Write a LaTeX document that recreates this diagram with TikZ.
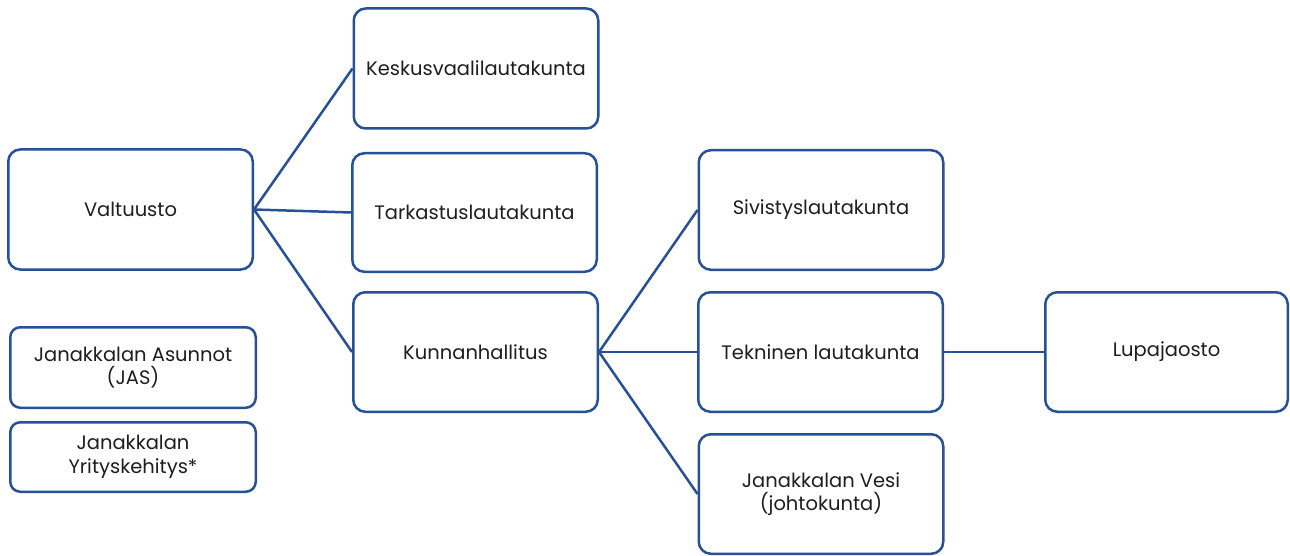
\documentclass[tikz,border=0pt]{standalone}
\usepackage{fontspec}
\setmainfont{Poppins}
\definecolor{boxblue}{RGB}{38,80,152}
\definecolor{txt}{RGB}{30,30,30}
\tikzset{
  orgbox/.style={draw=boxblue, line width=2.5pt, rounded corners=12pt, fill=white,
    minimum width=244.5pt, minimum height=120pt, inner sep=0pt, align=center,
    text=txt, font=\fontsize{19.5}{23.5}\selectfont},
  link/.style={draw=boxblue, line width=2.5pt}
}
\begin{document}
\begin{tikzpicture}[x=1pt,y=-1pt]
\useasboundingbox (0,0) rectangle (1290,556);
\node[orgbox] (val) at (130.5,209.5) {Valtuusto};
\node[orgbox] (kes) at (476,68.5) {Keskusvaalilautakunta};
\node[orgbox, minimum height=118.5pt] (tar) at (474.5,212.5) {Tarkastuslautakunta};
\node[orgbox, minimum height=119.5pt] (kun) at (475.5,352) {Kunnanhallitus};
\node[orgbox, minimum height=119.5pt] (siv) at (821,210) {Sivistyslautakunta};
\node[orgbox, minimum height=119.5pt] (tek) at (820.5,352) {Tekninen lautakunta};
\node[orgbox, minimum height=119.5pt] (ves) at (821,494) {Janakkalan Vesi\\(johtokunta)};
\node[orgbox, minimum width=242.5pt, minimum height=119.5pt] (lup) at (1166.5,352) {Lupajaosto};
\node[orgbox, minimum width=245.5pt, minimum height=80.5pt, rounded corners=10pt] (jas) at (133,367.5) {Janakkalan Asunnot\\(JAS)};
\node[orgbox, minimum width=245.5pt, minimum height=69.5pt, rounded corners=10pt] (yri) at (133,457) {Janakkalan\\Yrityskehitys*};
\draw[link] (val.east) -- (kes.west);
\draw[link] (val.east) -- (tar.west);
\draw[link] (val.east) -- (kun.west);
\draw[link] (kun.east) -- (siv.west);
\draw[link] (kun.east) -- (tek.west);
\draw[link] (kun.east) -- (ves.west);
\draw[link] (tek.east) -- (lup.west);
\end{tikzpicture}
\end{document}
